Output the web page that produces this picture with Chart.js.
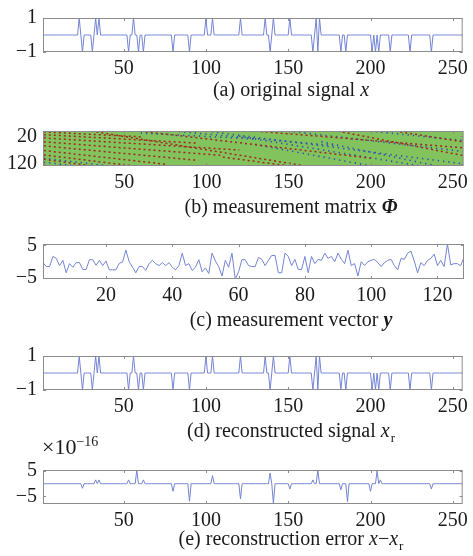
<!DOCTYPE html>
<html>
<head>
<meta charset="utf-8">
<script src="https://cdn.jsdelivr.net/npm/chart.js@4.4.1/dist/chart.umd.min.js"></script>
<style>
  body { margin: 0; background: #fff; width: 473px; height: 556px; position: relative; overflow: hidden;
         font-family: "Liberation Serif", "DejaVu Serif", serif; color: #1a1a1a; }
  canvas { position: absolute; left: 0; }
  .cap { position: absolute; left: 0; width: 582px; text-align: center; font-size: 20px; line-height: 20px; white-space: nowrap; }
  .sub { font-size: 13px; position: relative; top: 5px; margin-left: 1px; }
  .exp { position: absolute; left: 42px; top: 436px; font-size: 22px; line-height: 22px; white-space: nowrap; }
  .exp span { font-size: 14px; position: relative; top: -8px; }
</style>
</head>
<body>
<canvas id="chartA" width="473" height="82" style="top:0px"></canvas>
<canvas id="chartB" width="473" height="83" style="top:113px"></canvas>
<canvas id="chartC" width="473" height="83" style="top:226px"></canvas>
<canvas id="chartD" width="473" height="82" style="top:338px"></canvas>
<canvas id="chartE" width="473" height="82" style="top:452px"></canvas>

<div class="cap" style="top:79px">(a) original signal <i>x</i></div>
<div class="cap" style="top:196px">(b) measurement matrix <b><i>Φ</i></b></div>
<div class="cap" style="top:309px">(c) measurement vector <b><i>y</i></b></div>
<div class="cap" style="top:420px">(d) reconstructed signal <i>x</i><span class="sub">r</span></div>
<div class="exp">×10<span>−16</span></div>
<div class="cap" style="top:528px">(e) reconstruction error <i>x</i>−<i>x</i><span class="sub">r</span></div>

<script>
// sparse original signal x (length 256): positions and values of the spikes
const sigLength = 256;
const sigIdx = [23, 25, 31, 33, 35, 53, 56, 59, 62, 80, 90, 100, 104, 121, 136, 139, 141, 151,
                165, 167, 168, 169, 182, 185, 201, 203, 205, 212, 224, 237];
const sigVal = [1, -1, -1, 1, 1, -1, 1, -1, -1, -1, -1, 1, 1, 1, 1, -1, 1, 1,
                -1, 1, -1, 1, -1, -1, -1, -1, -1, -1, -1, -1];

// reconstructed signal is identical to x at plot resolution
const recIdx = sigIdx;
const recVal = sigVal;

// reconstruction error, in units of 1e-16
const errIdx = [25, 33, 35, 53, 58, 62, 80, 90, 104, 121, 139, 141, 151, 165, 168, 182, 186, 200, 204, 206, 237];
const errVal = [-1.8, 1.5, 1.5, 1.5, 5.4, 1.5, -3, -6.9, 3.2, -6, 4.2, -7.7, -2.1, 1.5, 5.4, -2.4, -7.1, -3, 5, 1.5, -2.1];

// measurement vector y (128 values)
const yVec = [
  -0.3, -1.5, -1.5, 1.6, 1.0, -1.2, 0.4, -3.4, -0.6, -1.7,
  -0.3, -0.3, -2.4, -2.4, 0.6, 0.6, -1.1, 0.4, -1.2, 0.2,
  -2.5, -2.5, -2.5, -0.5, -0.1, 3.5, 0.0, -1.7, -3.4, -1.5,
  -1.5, -2.7, -0.6, 0.4, -0.6, -1.2, -0.3, -1.2, -0.3, -1.7,
  -2.5, -1.2, 2.6, -1.2, -0.6, -2.7, -1.7, 0.6, -3.1, -1.9,
  -3.6, 2.6, 0.2, -1.5, -4.4, 0.4, -1.7, 2.6, -5.3, -3.1,
  0.6, 0.6, -1.2, -1.5, -1.5, 1.3, 0.7, -1.2, 0.4, 1.9,
  1.9, -3.4, -3.4, 2.6, 1.6, -1.2, 0.7, -2.4, -2.4, 1.6,
  -3.4, 1.6, -0.6, 0.7, 0.4, 2.6, 1.0, 1.6, 0.0, 2.6,
  0.7, -0.6, 3.5, -1.2, -0.6, -4.4, 0.0, -1.2, 0.0, 0.4,
  0.7, -0.3, -1.5, -0.3, 0.4, 0.7, -1.2, -2.5, 1.0, 0.7,
  2.6, 3.2, 0.2, -3.4, -0.3, -1.2, 0.4, 1.0, 2.3, -1.2,
  0.4, -1.5, 5.4, -1.0, -0.6, -0.6, -1.2, 1.3
];

// measurement matrix: stripes of positive (red) and negative (blue) entries, [col1,row1,col2,row2]
const phiRedStripes = [
  [1, 4, 60, 22], [1, 14, 95, 45], [1, 26, 120, 70], [1, 40, 110, 90], [1, 55, 95, 108],
  [1, 72, 75, 122], [1, 88, 55, 128], [1, 104, 30, 128], [30, 1, 160, 128], [60, 1, 200, 100],
  [130, 1, 256, 62], [180, 1, 256, 90], [215, 1, 256, 40], [110, 96, 150, 128]
];
const phiBlueStripes = [
  [1, 100, 40, 128], [1, 115, 20, 128], [60, 8, 130, 30], [80, 1, 180, 55], [100, 1, 256, 120],
  [120, 20, 230, 128], [150, 1, 256, 75], [200, 1, 256, 35], [130, 50, 200, 128], [170, 40, 240, 128]
];

// tick labels
const xTicksLong = [50, 100, 150, 200, 250];
const xTicksShort = [20, 40, 60, 80, 100, 120];
const yTicksSig = [-1, 1];
const yTicksPhi = [20, 120];
const yTicksVec = [-5, 5];
const yTicksErr = [-5, 5];

const LINE = '#7484d4';
const TXT = '#1a1a1a';
const FONT = { family: 'Liberation Serif', size: 20 };

function sparse(n, idx, val) {
  const a = new Array(n).fill(0);
  idx.forEach((k, i) => { a[k - 1] = val[i]; });
  return a.map((v, i) => ({ x: i + 1, y: v }));
}

function minusSign(v) {
  return v < 0 ? '\u2212' + Math.abs(v) : String(v);
}

// box around the axes with short inward ticks, like the original figure
const framePlugin = {
  id: 'frame',
  beforeDatasetsDraw(chart, args, opts) {
    if (!opts.fill) return;
    const a = chart.chartArea;
    chart.ctx.save();
    chart.ctx.fillStyle = opts.fill;
    chart.ctx.fillRect(a.left, a.top, a.width, a.height);
    chart.ctx.restore();
  },
  afterDraw(chart) {
    const { ctx, chartArea: a, scales: { x, y } } = chart;
    ctx.save();
    ctx.strokeStyle = '#8c8c8c';
    ctx.lineWidth = 1;
    ctx.strokeRect(a.left + 0.5, a.top + 0.5, a.width - 1, a.height - 1);
    ctx.beginPath();
    x.ticks.forEach(t => {
      const p = Math.round(x.getPixelForValue(t.value)) + 0.5;
      ctx.moveTo(p, a.top); ctx.lineTo(p, a.top + 3);
      ctx.moveTo(p, a.bottom); ctx.lineTo(p, a.bottom - 3);
    });
    y.ticks.forEach(t => {
      const p = Math.round(y.getPixelForValue(t.value)) + 0.5;
      ctx.moveTo(a.left, p); ctx.lineTo(a.left + 3, p);
      ctx.moveTo(a.right, p); ctx.lineTo(a.right - 3, p);
    });
    ctx.stroke();
    ctx.restore();
  }
};

function makeChart(id, datasets, xr, xt, yr, yt, opts = {}) {
  return new Chart(document.getElementById(id), {
    type: 'line',
    data: { datasets: datasets },
    plugins: [framePlugin],
    options: {
      responsive: false,
      animation: false,
      devicePixelRatio: 1,
      layout: { padding: { top: 15, right: 9, left: 0, bottom: 0 } },
      plugins: { legend: { display: false }, tooltip: { enabled: false }, frame: { fill: opts.fill } },
      elements: { point: { radius: 0 }, line: { borderWidth: 1, tension: 0 } },
      scales: {
        x: {
          type: 'linear', min: xr[0], max: xr[1],
          grid: { display: false, drawTicks: false }, border: { display: false },
          afterBuildTicks: s => { s.ticks = xt.map(v => ({ value: v })); },
          afterFit: s => { s.height = 30; },
          ticks: { color: TXT, font: FONT, padding: 5, maxRotation: 0, autoSkip: false }
        },
        y: {
          type: 'linear', min: yr[0], max: yr[1], reverse: !!opts.reverse,
          grid: { display: false, drawTicks: false }, border: { display: false },
          afterBuildTicks: s => { s.ticks = yt.map(v => ({ value: v })); },
          afterFit: s => { s.width = 43; },
          ticks: { color: TXT, font: FONT, padding: 6, autoSkip: false, callback: minusSign }
        }
      }
    }
  });
}

function lineSet(points) {
  return { data: points, borderColor: LINE, borderWidth: 1 };
}

function stripeSets(stripes, color, dash, width) {
  return stripes.map(s => ({
    data: [{ x: s[0], y: s[1] }, { x: s[2], y: s[3] }],
    borderColor: color, borderWidth: width, borderDash: dash
  }));
}

makeChart('chartA', [lineSet(sparse(sigLength, sigIdx, sigVal))], [1, 256], xTicksLong, [-1, 1], yTicksSig);

makeChart('chartB',
  stripeSets(phiRedStripes, '#a3261c', [2, 3], 1.5).concat(stripeSets(phiBlueStripes, '#2b4fb5', [1.3, 4], 1.6)),
  [0.5, 256.5], xTicksLong, [0.5, 128.5], yTicksPhi, { reverse: true, fill: '#82c35e' });

makeChart('chartC', [lineSet(yVec.map((v, i) => ({ x: i + 1, y: v })))], [1, 128], xTicksShort, [-5.3, 5.4], yTicksVec);

makeChart('chartD', [lineSet(sparse(sigLength, recIdx, recVal))], [1, 256], xTicksLong, [-1, 1], yTicksSig);

makeChart('chartE', [lineSet(sparse(sigLength, errIdx, errVal))], [1, 256], xTicksLong, [-8, 5.4], yTicksErr);
</script>
</body>
</html>
